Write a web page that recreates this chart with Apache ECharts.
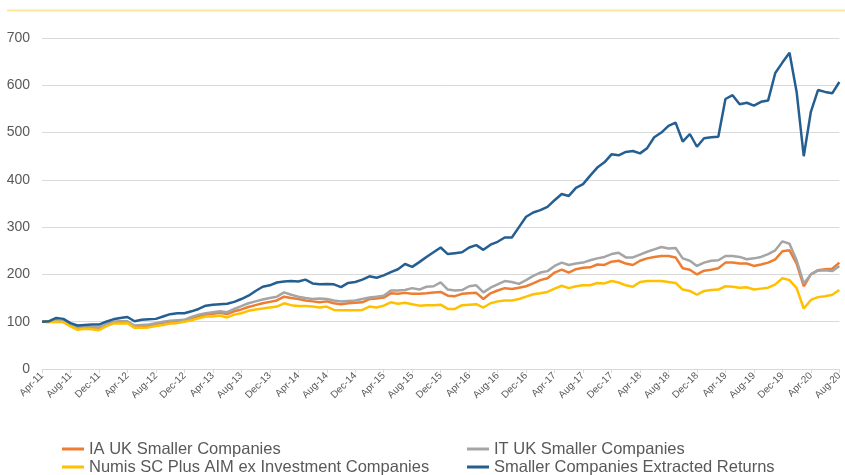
<!DOCTYPE html>
<html>
<head>
<meta charset="utf-8">
<script src="https://cdn.jsdelivr.net/npm/echarts@6/dist/echarts.min.js"></script>
<style>
html,body{margin:0;padding:0;background:#fff;}
#chart{width:845px;height:475px;}
</style>
</head>
<body>
<div id="chart"></div>
<script>
// Month categories Apr-11 .. Aug-20
const monthNames = ['Jan','Feb','Mar','Apr','May','Jun','Jul','Aug','Sep','Oct','Nov','Dec'];
const categories = [];
for (let y = 2011, m = 3; y < 2020 || (y === 2020 && m <= 7); ) {
  categories.push(monthNames[m] + '-' + String(y).slice(2));
  m++; if (m > 11) { m = 0; y++; }
}

const seriesNames = [
  'IA UK Smaller Companies',
  'IT UK Smaller Companies',
  'Numis SC Plus AIM ex Investment Companies',
  'Smaller Companies Extracted Returns'
];

const iaUK = [
  100,100,101,100,92,86,88,87,86,93,
  99,100,100,90,91,92,95,98,100,101,
  102,107,112,115,117,119,116,122,126,131,
  135,139,142,145,153,150,148,145,143,141,
  143,139,137,139,140,141,148,149,151,160,
  159,161,159,159,160,162,163,155,154,159,
  160,161,148,160,166,171,169,172,175,181,
  188,192,204,210,204,211,214,215,221,220,
  227,229,223,220,229,234,237,239,239,236,
  213,210,200,208,210,213,225,225,223,223,
  218,221,225,232,249,251,223,175,200,209,
  211,212,225
];

const itUK = [
  100,101,103,101,94,89,90,89,88,94,
  100,101,101,92,93,94,97,100,102,103,
  104,110,115,118,120,122,120,127,133,139,
  143,147,150,153,162,157,153,150,148,149,
  148,145,143,144,145,148,151,153,155,166,
  166,167,171,168,174,175,183,168,166,167,
  175,177,162,172,179,186,184,180,188,197,
  204,207,218,225,220,223,225,230,234,237,
  243,246,236,236,242,248,253,258,255,256,
  234,229,218,225,229,230,239,239,237,232,
  234,237,243,251,270,265,230,181,200,208,
  209,207,218
];

const numis = [
  100,99,100,99,90,83,85,84,82,90,
  96,96,97,87,87,88,91,93,96,97,
  100,103,107,111,111,113,109,115,118,123,
  126,128,130,132,139,135,133,133,132,130,
  132,125,124,124,124,125,132,130,134,141,
  138,140,137,134,135,135,136,127,127,135,
  136,137,130,139,143,145,145,148,153,158,
  160,163,170,176,171,175,177,177,182,181,
  186,183,177,174,184,186,186,186,184,182,
  168,165,157,165,167,168,175,174,172,173,
  168,170,172,179,192,188,171,128,146,152,
  154,157,167
];

const extracted = [
  100,101,108,106,97,92,93,94,94,100,
  105,108,110,101,104,105,106,111,116,118,
  118,122,127,134,136,137,138,142,148,155,
  165,174,177,183,185,186,185,189,181,179,
  180,179,173,182,184,189,196,193,198,205,
  211,222,216,226,237,247,257,243,245,247,
  257,262,252,263,269,278,278,300,322,331,
  336,343,357,370,366,383,391,409,426,437,
  454,452,459,461,456,467,490,500,514,521,
  481,497,470,488,490,491,571,579,560,563,
  557,565,568,626,648,669,586,450,544,590,
  586,583,607
];

const colors = ['#ED7D31', '#A5A5A5', '#FFC000', '#255E91'];
const seriesData = [iaUK, itUK, numis, extracted];

const chart = echarts.init(document.getElementById('chart'), null, {renderer: 'canvas'});
const font = "'Liberation Sans', Arial, sans-serif";

const legendText = {color: '#595959', fontSize: 16.5, fontFamily: font, lineHeight: 18};
const legendPos = [[62, 440], [467, 440], [62, 458], [467, 458]];

chart.setOption({
  animation: false,
  backgroundColor: '#ffffff',
  color: colors,
  graphic: [{
    type: 'line',
    shape: {x1: 7, y1: 10.5, x2: 845, y2: 10.5},
    style: {stroke: '#FFE699', lineWidth: 2}
  }],
  grid: {left: 42, right: 5, top: 38, bottom: 106},
  legend: seriesNames.map((n, i) => ({
    left: legendPos[i][0], top: legendPos[i][1],
    data: [n],
    icon: 'rect', itemWidth: 22, itemHeight: 3, itemGap: 0, padding: 0,
    itemTextGap: 3,
    itemStyle: {borderWidth: 0},
    textStyle: legendText
  })),
  xAxis: {
    type: 'category',
    data: categories,
    boundaryGap: false,
    axisLine: {show: true, lineStyle: {color: '#D9D9D9', width: 1}},
    axisTick: {show: true, interval: 3, length: 4, lineStyle: {color: '#D9D9D9'}},
    axisLabel: {
      interval: 3, rotate: 45, margin: 5,
      color: '#595959', fontSize: 10, fontFamily: font
    },
    splitLine: {show: false}
  },
  yAxis: {
    type: 'value',
    min: 0, max: 700, interval: 100,
    axisLine: {show: false},
    axisTick: {show: false},
    axisLabel: {color: '#595959', fontSize: 14, fontFamily: font, margin: 12},
    splitLine: {lineStyle: {color: '#D9D9D9', width: 1}}
  },
  series: seriesData.map((d, i) => ({
    name: seriesNames[i],
    type: 'line',
    data: d,
    symbol: 'none',
    lineStyle: {width: 2.5, color: colors[i]},
    itemStyle: {color: colors[i]},
    z: 2 + i
  }))
});
</script>
</body>
</html>
